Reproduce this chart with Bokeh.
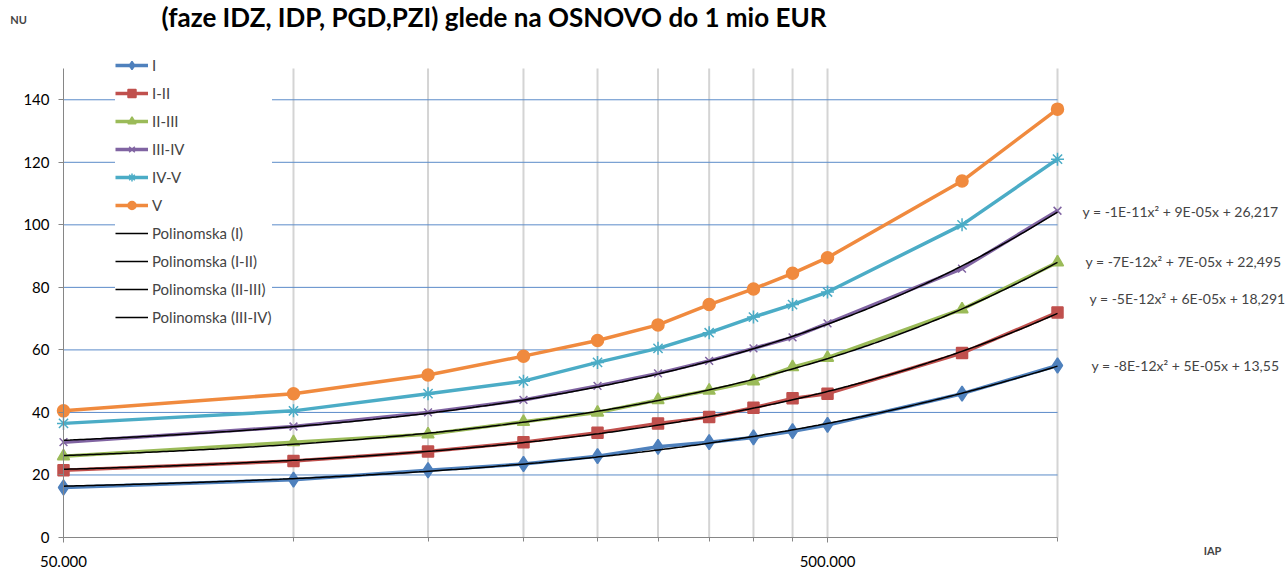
import math
import numpy as np
from bokeh.plotting import figure
from bokeh.models import Range1d, FixedTicker, Label, CustomJSTickFormatter
from bokeh.embed import file_html
from bokeh.resources import INLINE

# ---- data ----
iap = [50000, 100000, 150000, 200000, 250000, 300000, 350000, 400000, 450000, 500000, 750000, 1000000]
s_I = [16, 18.5, 21.5, 23.5, 26, 29, 30.5, 32, 34, 36, 46, 55]
s_I_II = [21.5, 24.5, 27.5, 30.5, 33.5, 36.5, 38.5, 41.5, 44.5, 46, 59, 72]
s_II_III = [26, 30.5, 33, 37, 40, 44, 47, 50, 54.5, 57.5, 73, 88]
s_III_IV = [30.5, 35.5, 40, 44, 48.5, 52.5, 56.5, 60.5, 64, 68.5, 86, 104.5]
s_IV_V = [36.5, 40.5, 46, 50, 56, 60.5, 65.5, 70.5, 74.5, 78.5, 100, 121]
s_V = [40.5, 46, 52, 58, 63, 68, 74.5, 79.5, 84.5, 89.5, 114, 137]

series_names = ["I", "I-II", "II-III", "III-IV", "IV-V", "V"]
trend_names = ["Polinomska (I)", "Polinomska (I-II)", "Polinomska (II-III)", "Polinomska (III-IV)"]
equations = [
    "y = -1E-11x\u00b2 + 9E-05x + 26,217",
    "y = -7E-12x\u00b2 + 7E-05x + 22,495",
    "y = -5E-12x\u00b2 + 6E-05x + 18,291",
    "y = -8E-12x\u00b2 + 5E-05x + 13,55",
]
y_ticks = [0, 20, 40, 60, 80, 100, 120, 140]
x_major = [50000, 500000]
x_minor = [100000, 150000, 200000, 250000, 300000, 350000, 400000, 450000, 1000000]
x_min, x_max = 50000, 1000000
y_min, y_max = 0, 150
title_text = "(faze IDZ, IDP, PGD,PZI) glede na OSNOVO do 1 mio EUR"
y_title = "NU"
x_title = "IAP"

FONT = "Lato"
W, H = 1285, 569
# pixel geometry of the plotting area inside the canvas
PX_L, PX_R, PX_T, PX_B = 63, 1057, 68, 537

kx = (math.log10(x_max) - math.log10(x_min)) / (PX_R - PX_L)
xr = Range1d(10 ** (math.log10(x_min) - PX_L * kx), 10 ** (math.log10(x_max) + (W - PX_R) * kx))
ky = (y_max - y_min) / (PX_B - PX_T)
yr = Range1d(y_min - (H - PX_B) * ky, y_max + PX_T * ky)

p = figure(width=W, height=H, x_axis_type="log", x_range=xr, y_range=yr,
           output_backend="svg", toolbar_location=None,
           min_border_left=0, min_border_right=0, min_border_top=0, min_border_bottom=0)
p.outline_line_color = None
p.background_fill_color = "white"
p.border_fill_color = "white"
p.grid.visible = False

# axes drawn at fixed places inside the canvas
p.xaxis.fixed_location = y_min
p.xaxis.bounds = (x_min, x_max)
p.yaxis.fixed_location = x_min
p.yaxis.bounds = (y_min, y_max)
p.xaxis.ticker = FixedTicker(ticks=x_major, minor_ticks=x_minor)
p.xaxis.formatter = CustomJSTickFormatter(code="return tick.toFixed(0).replace(/\\B(?=(\\d{3})+(?!\\d))/g, '.');")
p.yaxis.ticker = FixedTicker(ticks=y_ticks)
for ax in (p.xaxis, p.yaxis):
    ax.axis_line_color = "#868686"
    ax.major_tick_line_color = "#868686"
    ax.minor_tick_line_color = "#868686"
    ax.major_tick_in = 0
    ax.major_tick_out = 5
    ax.minor_tick_in = 0
    ax.minor_tick_out = 4
    ax.major_label_text_font = FONT
    ax.major_label_text_font_size = "15px"
    ax.major_label_text_color = "#000000"
p.yaxis.minor_tick_line_color = None
p.yaxis.major_label_standoff = 9
p.xaxis.major_label_standoff = 13

# grid lines
grid_x = x_minor[:-1] + [x_major[1], x_minor[-1]]
p.segment(x0=grid_x, y0=y_min, x1=grid_x, y1=y_max, line_color="#D4D4D4", line_width=2)
p.segment(x0=x_min, y0=y_ticks[1:], x1=x_max, y1=y_ticks[1:], line_color="#5B8BC9", line_width=1)

colors = ["#4F81BD", "#C0504D", "#9BBB59", "#8064A2", "#4BACC6", "#F08A3E"]
markers = ["diamond", "square", "triangle", "x", "asterisk", "circle"]
msizes = [15, 11, 12, 11, 13, 12]
all_series = [s_I, s_I_II, s_II_III, s_III_IV, s_IV_V, s_V]

for name, ys, c, m, ms in zip(series_names, all_series, colors, markers, msizes):
    p.line(iap, ys, line_color=c, line_width=3.5, legend_label=name)
    p.scatter(iap, ys, marker=m, size=ms, fill_color=c, line_color=c,
              line_width=1.5, legend_label=name)

xs_fit = np.geomspace(iap[0], iap[-1], 300)
for name, ys in zip(trend_names, all_series[:4]):
    coef = np.polyfit(iap, ys, 2)
    p.line(xs_fit, np.polyval(coef, xs_fit), line_color="black", line_width=1.5, legend_label=name)

lg = p.legend[0]
lg.location = (115, 242)
lg.border_line_color = None
lg.background_fill_color = "white"
lg.background_fill_alpha = 1
lg.label_text_font = FONT
lg.label_text_font_size = "15px"
lg.glyph_width = 33
lg.glyph_height = 20
lg.label_height = 20
lg.spacing = 8
lg.padding = 6
lg.margin = 0
lg.label_standoff = 4

# texts
p.add_layout(Label(x=161, y=H - 16, x_units="screen", y_units="screen", text=title_text,
                   text_font=FONT, text_font_style="bold", text_font_size="26px",
                   text_baseline="middle", text_align="left", text_color="#000000"))
p.add_layout(Label(x=18, y=H - 19, x_units="screen", y_units="screen", text=y_title,
                   text_font=FONT, text_font_style="bold", text_font_size="11px",
                   text_baseline="middle", text_align="center"))
p.add_layout(Label(x=1212, y=H - 550, x_units="screen", y_units="screen", text=x_title,
                   text_font=FONT, text_font_style="bold", text_font_size="11px",
                   text_baseline="middle", text_align="center"))
eq_x = [1082, 1085, 1089, 1091]
eq_y = [104.2, 88.2, 76.4, 55.0]
for t, ex, ey in zip(equations, eq_x, eq_y):
    p.add_layout(Label(x=ex, y=ey, x_units="screen", y_units="data", text=t,
                       text_font=FONT, text_font_size="14px",
                       text_baseline="middle", text_align="left"))

open("out.html", "w").write(file_html(p, INLINE))
